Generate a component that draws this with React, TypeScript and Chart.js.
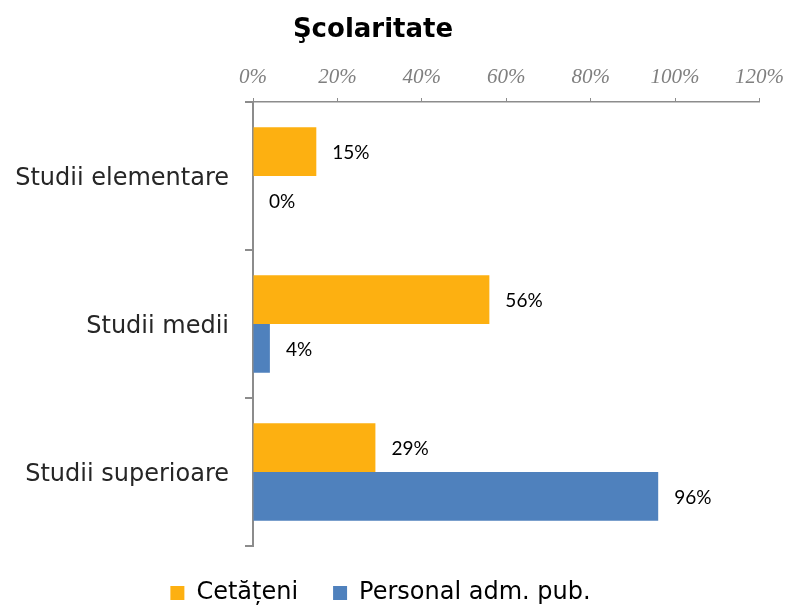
import React, { useEffect, useRef } from "react";
import { Chart, registerables } from "chart.js";

Chart.register(...registerables);

const titleText = "Şcolaritate";
const categories = ["Studii elementare", "Studii medii", "Studii superioare"];
const seriesNames = ["Cetățeni", "Personal adm. pub."];
const cetateni = [15, 56, 29];
const personal = [0, 4, 96];
const xTicks = [0, 20, 40, 60, 80, 100, 120];
const colors = ["#FDB011", "#4F81BD"];

const dataLabels = {
  id: "dataLabels",
  afterDatasetsDraw(chart: any) {
    const ctx = chart.ctx;
    ctx.save();
    ctx.font = "19px Lato";
    ctx.fillStyle = "#000000";
    ctx.textAlign = "left";
    ctx.textBaseline = "middle";
    chart.data.datasets.forEach((ds: any, di: number) => {
      const meta = chart.getDatasetMeta(di);
      meta.data.forEach((bar: any, i: number) => {
        const v = ds.data[i];
        ctx.fillText(v + "%", bar.x + 16, bar.y + 1);
      });
    });
    ctx.restore();
  },
};

const titlePlugin = {
  id: "customTitle",
  afterDraw(chart: any) {
    const ctx = chart.ctx;
    ctx.save();
    ctx.font = "bold 26px 'DejaVu Sans'";
    ctx.fillStyle = "#000000";
    ctx.textAlign = "center";
    ctx.textBaseline = "middle";
    ctx.fillText(titleText, 373, 30);
    ctx.restore();
  },
};

const legendNudge = {
  id: "legendNudge",
  afterLayout(chart: any) {
    const lg = chart.legend;
    if (lg) {
      lg.left -= 7;
      lg.right -= 7;
    }
  },
};

export default function App() {
  const ref = useRef<HTMLCanvasElement>(null);
  useEffect(() => {
    if (!ref.current) return;
    const chart = new Chart(ref.current, {
      type: "bar",
      data: {
        labels: categories,
        datasets: [
          { label: seriesNames[0], data: cetateni, backgroundColor: colors[0] },
          { label: seriesNames[1], data: personal, backgroundColor: colors[1] },
        ],
      },
      options: {
        indexAxis: "y",
        animation: false,
        responsive: false,
        maintainAspectRatio: false,
        datasets: { bar: { categoryPercentage: 0.66, barPercentage: 1 } } as any,
        layout: { padding: { left: 15, right: 32, top: 44, bottom: -9 } },
        scales: {
          x: {
            position: "top",
            min: 0,
            max: 120,
            afterBuildTicks: (axis: any) => {
              axis.ticks = xTicks.map((v) => ({ value: v }));
            },
            afterFit: (axis: any) => {
              axis.height = 58;
            },
            ticks: {
              callback: (v: any) => v + "%",
              color: "#7F7F7F",
              font: { family: "'Liberation Serif'", style: "italic", size: 21 },
              padding: 8,
            },
            grid: {
              display: true,
              drawOnChartArea: false,
              drawTicks: true,
              tickLength: 4,
              color: "#8C8C8C",
              lineWidth: 1,
            },
            border: { display: true, color: "#8C8C8C", width: 1.5, dash: [1, 2] },
          },
          y: {
            afterFit: (axis: any) => {
              axis.width = 238;
            },
            ticks: {
              color: "#262626",
              font: { family: "'DejaVu Sans'", size: 24 },
              padding: 16,
              labelOffset: 3,
            },
            grid: {
              display: true,
              offset: true,
              drawOnChartArea: false,
              drawTicks: true,
              tickLength: 8,
              color: "#8C8C8C",
              lineWidth: 2,
            },
            border: { display: true, color: "#8C8C8C", width: 2 },
          },
        },
        plugins: {
          title: { display: false },
          legend: {
            position: "bottom",
            labels: {
              color: "#000000",
              font: { family: "'DejaVu Sans'", size: 24 },
              boxWidth: 14,
              boxHeight: 14,
              padding: 35,
            },
          },
          tooltip: { enabled: false },
        },
      },
      plugins: [dataLabels, titlePlugin, legendNudge],
    });
    return () => chart.destroy();
  }, []);
  return (
    <div style={{ position: "fixed", left: 0, top: 0, width: 792, height: 606, background: "#fff" }}>
      <canvas ref={ref} width={792} height={606} style={{ width: 792, height: 606 }} />
    </div>
  );
}
